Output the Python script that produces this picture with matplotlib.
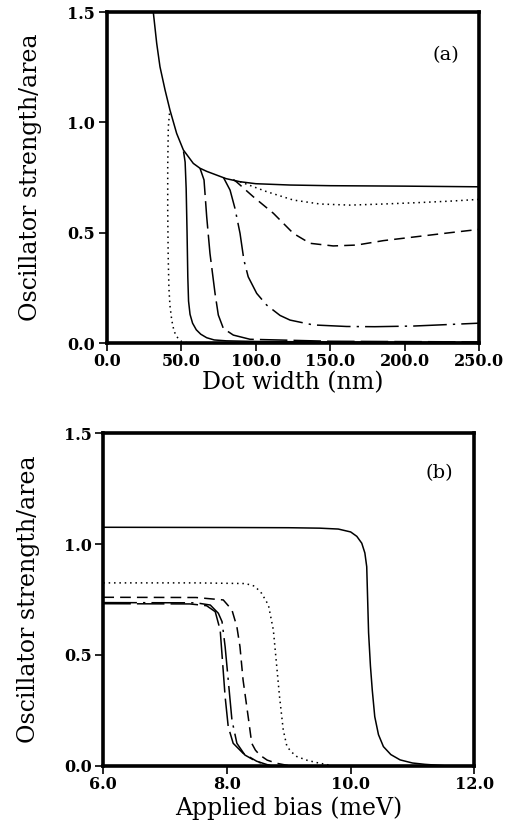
import numpy as np
import matplotlib
matplotlib.use('Agg')
import matplotlib.pyplot as plt

plt.rcParams['font.family'] = ['DejaVu Serif']

# ---- panel (a): oscillator strength vs dot width ----
env_x = [31.1, 33.4, 35.6, 39.0, 42.3, 46.8, 51.3, 58.0, 62.5, 67.0, 73.7, 80.0, 89.4, 100.0, 123.0, 150.0, 200.0, 250.0]
env_y = [1.50, 1.358, 1.252, 1.147, 1.056, 0.950, 0.875, 0.814, 0.792, 0.778, 0.761, 0.745, 0.731, 0.722, 0.716, 0.713, 0.711, 0.708]

dot1_x = [42.0, 41.2, 40.8, 40.8, 41.1, 41.6, 42.3, 43.5, 45.0, 46.8, 50.2, 55.0, 60.0]
dot1_y = [1.04, 0.98, 0.80, 0.60, 0.40, 0.25, 0.17, 0.104, 0.055, 0.029, 0.006, 0.0, 0.0]

sol2_x = [51.5, 52.5, 53.2, 53.8, 54.3, 54.8, 55.8, 57.5, 60.0, 63.0, 67.0, 72.0, 80.0, 100.0, 150.0, 250.0]
sol2_y = [0.865, 0.82, 0.70, 0.50, 0.30, 0.19, 0.13, 0.09, 0.06, 0.04, 0.024, 0.014, 0.010, 0.007, 0.005, 0.003]

ldash3_x = [62.5, 65.2, 67.0, 69.2, 72.6, 74.8, 78.2, 84.9, 96.1, 150.0, 250.0]
ldash3_y = [0.792, 0.739, 0.572, 0.406, 0.225, 0.127, 0.066, 0.036, 0.017, 0.008, 0.005]

dd4_x = [78.2, 82.7, 86.0, 89.4, 92.0, 94.9, 100.6, 107.3, 116.3, 123.0, 138.6, 161.0, 180.0, 206.0, 230.0, 250.0]
dd4_y = [0.751, 0.693, 0.610, 0.497, 0.376, 0.300, 0.225, 0.172, 0.125, 0.104, 0.082, 0.075, 0.074, 0.077, 0.084, 0.090]

dash5_x = [84.9, 87.1, 98.3, 111.8, 125.2, 136.4, 152.0, 167.8, 185.7, 208.1, 230.5, 250.0]
dash5_y = [0.741, 0.730, 0.663, 0.588, 0.497, 0.452, 0.440, 0.444, 0.464, 0.482, 0.500, 0.515]

dot6_x = [89.4, 107.3, 125.2, 143.1, 163.3, 185.7, 208.1, 230.5, 250.0]
dot6_y = [0.731, 0.686, 0.648, 0.630, 0.625, 0.630, 0.636, 0.643, 0.651]

# ---- panel (b): oscillator strength vs applied bias ----
bsol_x = [6.0, 8.0, 9.0, 9.5, 9.8, 10.0, 10.1, 10.18, 10.23, 10.26, 10.29, 10.32, 10.35, 10.39, 10.45, 10.53, 10.65, 10.8, 11.0, 11.2, 11.5]
bsol_y = [1.076, 1.075, 1.074, 1.072, 1.068, 1.055, 1.035, 1.004, 0.96, 0.898, 0.60, 0.45, 0.34, 0.221, 0.14, 0.086, 0.05, 0.026, 0.012, 0.006, 0.0]

bdot_x = [6.0, 7.5, 8.3, 8.45, 8.56, 8.67, 8.75, 8.80, 8.85, 8.91, 8.97, 9.05, 9.13, 9.3, 9.45, 9.7]
bdot_y = [0.825, 0.825, 0.822, 0.81, 0.778, 0.725, 0.612, 0.462, 0.311, 0.161, 0.086, 0.06, 0.041, 0.024, 0.014, 0.0]

bdash_x = [6.0, 7.5, 7.94, 8.08, 8.16, 8.21, 8.26, 8.35, 8.40, 8.46, 8.53, 8.65, 8.8, 9.0]
bdash_y = [0.760, 0.759, 0.748, 0.703, 0.627, 0.537, 0.387, 0.206, 0.101, 0.07, 0.048, 0.025, 0.011, 0.0]

bdd_x = [6.0, 7.5, 7.73, 7.86, 7.92, 7.97, 8.02, 8.08, 8.16, 8.29, 8.48, 8.7]
bdd_y = [0.736, 0.735, 0.725, 0.688, 0.650, 0.537, 0.387, 0.206, 0.101, 0.048, 0.018, 0.0]

bld_x = [6.0, 7.4, 7.67, 7.81, 7.89, 7.93, 7.97, 8.02, 8.10, 8.26, 8.48, 8.7]
bld_y = [0.731, 0.730, 0.722, 0.695, 0.612, 0.462, 0.311, 0.176, 0.101, 0.056, 0.020, 0.0]

DOTTED = (0, (1, 2.5))
DASHED = (0, (7, 4))
LDASH = (0, (18, 4))
DASHDOT = (0, (22, 4, 1.5, 4))

fig = plt.figure(figsize=(5.11, 8.24), dpi=100)
ax1 = fig.add_axes([0.2094, 0.5837, 0.728, 0.4017])
ax2 = fig.add_axes([0.2022, 0.0708, 0.726, 0.4033])

lw = 1.1
ax1.plot(env_x, env_y, color='black', lw=lw, linestyle='-')
ax1.plot(dot1_x, dot1_y, color='black', lw=lw, linestyle=DOTTED)
ax1.plot(sol2_x, sol2_y, color='black', lw=lw, linestyle='-')
ax1.plot(ldash3_x, ldash3_y, color='black', lw=lw, linestyle=LDASH)
ax1.plot(dd4_x, dd4_y, color='black', lw=lw, linestyle=DASHDOT)
ax1.plot(dash5_x, dash5_y, color='black', lw=lw, linestyle=DASHED)
ax1.plot(dot6_x, dot6_y, color='black', lw=lw, linestyle=DOTTED)

ax2.plot(bsol_x, bsol_y, color='black', lw=lw, linestyle='-')
ax2.plot(bdot_x, bdot_y, color='black', lw=lw, linestyle=DOTTED)
ax2.plot(bdash_x, bdash_y, color='black', lw=lw, linestyle=DASHED)
ax2.plot(bdd_x, bdd_y, color='black', lw=lw, linestyle=DASHDOT)
ax2.plot(bld_x, bld_y, color='black', lw=lw, linestyle=LDASH)

ax1.set_xlim(0, 250)
ax1.set_ylim(0, 1.5)
ax1.set_xticks([0, 50, 100, 150, 200, 250])
ax1.set_xticklabels(['0.0', '50.0', '100.0', '150.0', '200.0', '250.0'])
ax2.set_xlim(6, 12)
ax2.set_ylim(0, 1.5)
ax2.set_xticks([6, 8, 10, 12])
ax2.set_xticklabels(['6.0', '8.0', '10.0', '12.0'])

for ax in (ax1, ax2):
    ax.set_yticks([0.0, 0.5, 1.0, 1.5])
    ax.set_yticklabels(['0.0', '0.5', '1.0', '1.5'])
    for s in ax.spines.values():
        s.set_linewidth(2.6)
    ax.tick_params(direction='out', length=6, width=1.2, labelsize=11.5)
    ax.tick_params(axis='x', pad=1.5)
    ax.tick_params(axis='y', pad=2.5)
    for lab in ax.get_xticklabels() + ax.get_yticklabels():
        lab.set_fontweight('bold')
    ax.set_ylabel('Oscillator strength/area', fontsize=17)

ax1.set_xlabel('Dot width (nm)', fontsize=17)
ax2.set_xlabel('Applied bias (meV)', fontsize=17)
ax1.xaxis.set_label_coords(0.5, -0.085)
ax1.yaxis.set_label_coords(-0.175, 0.5)
ax2.xaxis.set_label_coords(0.5, -0.092)
ax2.yaxis.set_label_coords(-0.171, 0.5)

ax1.text(0.91, 0.87, '(a)', transform=ax1.transAxes, fontsize=14, ha='center', va='center')
ax2.text(0.907, 0.88, '(b)', transform=ax2.transAxes, fontsize=14, ha='center', va='center')

fig.savefig('out.png', dpi=100, facecolor='white')
